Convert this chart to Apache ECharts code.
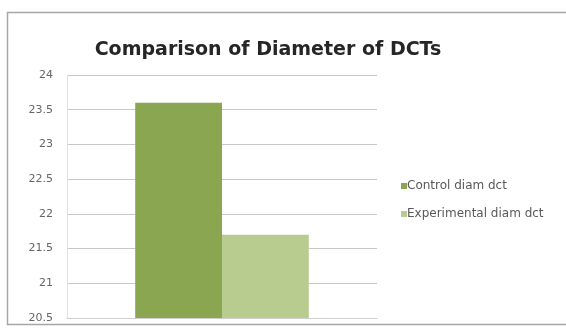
<!DOCTYPE html>
<html>
<head>
<meta charset="utf-8">
<script src="https://cdn.jsdelivr.net/npm/echarts@6/dist/echarts.min.js"></script>
<style>
  html, body { margin: 0; padding: 0; background: #fff; }
  #main { width: 566px; height: 329px; }
</style>
</head>
<body>
<div id="main"></div>
<script>
var categories = ['1'];
var controlDiam = [23.6];
var experimentalDiam = [21.7];
var seriesNames = ['Control diam dct', 'Experimental diam dct'];

var chart = echarts.init(document.getElementById('main'));
chart.setOption({
    backgroundColor: '#fff',
    animation: false,
    graphic: [{
        type: 'rect',
        shape: { x: 7.5, y: 12.5, width: 560, height: 312 },
        style: { fill: 'none', stroke: '#a6a6a6', lineWidth: 1.5 },
        silent: true
    }],
    title: {
        text: 'Comparison of Diameter of DCTs',
        left: 263, top: 36, textAlign: 'center',
        textStyle: { fontFamily: 'DejaVu Sans', fontWeight: 'bold', fontSize: 19, color: '#262626' }
    },
    legend: {
        orient: 'vertical',
        left: 396, top: 175,
        itemWidth: 6, itemHeight: 6, itemGap: 16,
        icon: 'rect',
        textStyle: { fontFamily: 'DejaVu Sans', fontSize: 12, color: '#595959', padding: [0, 0, 0, -5] },
        data: seriesNames
    },
    grid: { left: 67, right: 189, top: 75, bottom: 11 },
    xAxis: {
        type: 'category',
        data: categories,
        axisLabel: { show: false },
        axisTick: { show: false },
        axisLine: { lineStyle: { color: '#d0d0d0' } }
    },
    yAxis: {
        type: 'value',
        min: 20.5, max: 24, interval: 0.5,
        axisLine: { show: true, lineStyle: { color: '#e0e0e0' } },
        axisTick: { show: false },
        axisLabel: { fontFamily: 'DejaVu Sans', fontSize: 11, color: '#666', margin: 14 },
        splitLine: { lineStyle: { color: '#c8c8c8' } }
    },
    series: [{
        name: seriesNames[0],
        type: 'bar',
        data: controlDiam,
        barGap: '0%',
        barCategoryGap: '44%',
        itemStyle: { color: '#8aa650' }
    }, {
        name: seriesNames[1],
        type: 'bar',
        data: experimentalDiam,
        itemStyle: { color: '#b9cc8f' }
    }]
});
</script>
</body>
</html>
